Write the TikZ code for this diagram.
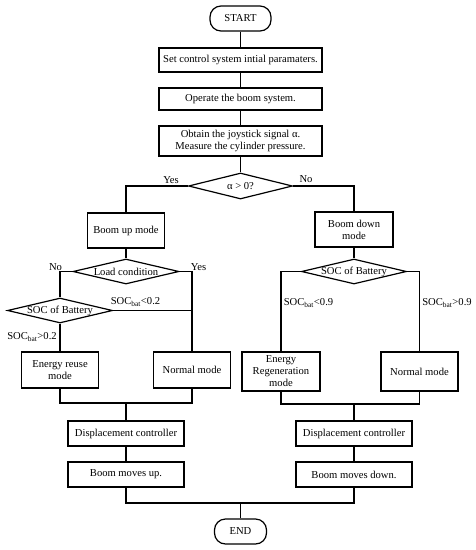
\documentclass[tikz,border=0pt]{standalone}
\usepackage{fontspec}
\setmainfont{Liberation Serif}
\usetikzlibrary{shapes.geometric}
\begin{document}
\begin{tikzpicture}[x=1pt,y=-1pt,line width=1.2pt,
    font=\fontsize{10.6}{12}\selectfont,
    box/.style={draw,rectangle,inner sep=0pt,align=center},
    term/.style={draw,rectangle,rounded corners=11pt,inner sep=0pt,minimum width=#1,minimum height=25pt},
    dec/.style={draw,diamond,inner sep=-2pt,aspect=4,minimum width=#1,minimum height=25pt},
    lbl/.style={inner sep=0pt}]
    \useasboundingbox (0,0) rectangle (475,550);
    \node [term=61pt] (start) at (240.5,18.5) {START};
    \node [box,minimum width=163pt,minimum height=24pt] (init) at (240.5,60) {Set control system intial paramaters.};
    \node [box,minimum width=163pt,minimum height=22pt] (oper) at (240.5,99) {Operate the boom system.};
    \node [box,minimum width=163pt,minimum height=30pt] (meas) at (240.5,141) {Obtain the joystick signal α.\\Measure the cylinder pressure.};
    \node [dec=104pt,minimum height=26pt] (alpha) at (240.5,186) {α > 0?};
    \node [box,minimum width=77pt,minimum height=35pt] (up) at (126,230.5) {Boom up mode};
    \node [box,minimum width=78pt,minimum height=35pt] (down) at (354,229.5) {Boom down\\mode};
    \node [dec=106pt] (load) at (126,271.5) {Load condition};
    \node [dec=105pt] (socl) at (60,310.5) {SOC of Battery};
    \node [dec=105pt] (socr) at (354,271.5) {SOC of Battery};
    \node [box,minimum width=77pt,minimum height=36pt] (reuse) at (60,370) {Energy reuse\\mode};
    \node [box,minimum width=77pt,minimum height=36pt] (norml) at (192,370) {Normal mode};
    \node [box,minimum width=78pt,minimum height=39pt] (regen) at (281,371.5) {Energy\\Regeneration\\mode};
    \node [box,minimum width=77pt,minimum height=39pt] (normr) at (419.5,371.5) {Normal mode};
    \coordinate (jl) at (126,403);
    \coordinate (jr) at (354,404);
    \node [box,minimum width=116pt,minimum height=25pt] (displ) at (126,433.5) {Displacement controller};
    \node [box,minimum width=116pt,minimum height=25pt] (dispr) at (354,433.5) {Displacement controller};
    \node [box,minimum width=116pt,minimum height=25pt] (mvup) at (126,474.5) {Boom moves up.};
    \node [box,minimum width=116pt,minimum height=25pt] (mvdn) at (354,474.5) {Boom moves down.};
    \coordinate (jend) at (240.5,503);
    \node [term=52pt] (end) at (240.5,531.5) {END};
    \node [lbl] (lyes) at (171,180) {Yes};
    \node [lbl] (lno) at (306,179) {No};
    \node [lbl] (lldno) at (55.5,267) {No};
    \node [lbl] (lldyes) at (198.5,267) {Yes};
    \node [lbl] (llt) at (135.5,302) {SOC\textsubscript{bat}<0.2};
    \node [lbl] (lgt) at (32,337) {SOC\textsubscript{bat}>0.2};
    \node [lbl] (rlt) at (308.5,303) {SOC\textsubscript{bat}<0.9};
    \node [lbl] (rgt) at (447,303) {SOC\textsubscript{bat}>0.9};
    \draw (start) -- (init);
    \draw (init) -- (oper);
    \draw (oper) -- (meas);
    \draw (meas) -- (alpha);
    \draw (alpha.west) -| (up.north);
    \draw (alpha.east) -| (down.north);
    \draw (up) -- (load);
    \draw (load.west) -| (socl.north);
    \draw (load.east) -| (norml.north);
    \draw (socl.east) -- (socl.east -| norml.north);
    \draw (socl) -- (reuse);
    \draw (down) -- (socr);
    \draw (socr.west) -| (regen.north);
    \draw (socr.east) -| (normr.north);
    \draw (reuse.south) |- (jl) -| (norml.south);
    \draw (regen.south) |- (jr) -| (normr.south);
    \draw (jl) -- (displ);
    \draw (jr) -- (dispr);
    \draw (displ) -- (mvup);
    \draw (dispr) -- (mvdn);
    \draw (mvup.south) |- (jend) -| (mvdn.south);
    \draw (jend) -- (end);
\end{tikzpicture}
\end{document}
